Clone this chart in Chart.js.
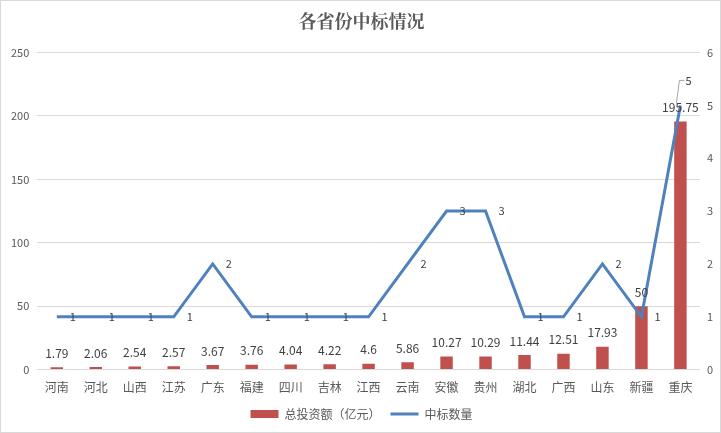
<!DOCTYPE html>
<html>
<head>
<meta charset="utf-8">
<script src="https://cdn.jsdelivr.net/npm/chart.js@4"></script>
<style>
  html, body { margin: 0; padding: 0; background: #fff; }
  #wrap { width: 719px; height: 431px; border: 1px solid #d9d9d9; position: relative; }
</style>
</head>
<body>
<div id="wrap"><canvas id="chart" width="719" height="431"></canvas></div>
<script>
const provinces = ["河南", "河北", "山西", "江苏", "广东", "福建", "四川", "吉林", "江西", "云南", "安徽", "贵州", "湖北", "广西", "山东", "新疆", "重庆"];
const investment = [1.79, 2.06, 2.54, 2.57, 3.67, 3.76, 4.04, 4.22, 4.6, 5.86, 10.27, 10.29, 11.44, 12.51, 17.93, 50, 195.75];
const bidCount = [1, 1, 1, 1, 2, 1, 1, 1, 1, 2, 3, 3, 1, 1, 2, 1, 5];

const txt = "#595959";
const font = "'Microsoft YaHei', 'Noto Sans CJK SC', sans-serif";

// draw the value labels for both series
const labelPlugin = {
  id: "valueLabels",
  afterDatasetsDraw(chart) {
    const ctx = chart.ctx;
    ctx.save();
    ctx.font = "12px " + font;
    ctx.fillStyle = "#404040";
    chart.getDatasetMeta(0).data.forEach((bar, i) => {
      ctx.textAlign = "center";
      ctx.textBaseline = "bottom";
      ctx.fillText(String(investment[i]), bar.x, bar.y - 8);
    });
    ctx.font = "11px " + font;
    const pts = chart.getDatasetMeta(1).data;
    pts.forEach((p, i) => {
      ctx.textBaseline = "middle";
      ctx.textAlign = "left";
      if (i === pts.length - 1) {
        // leader line for the last label
        ctx.strokeStyle = "#a6a6a6";
        ctx.lineWidth = 1;
        ctx.beginPath();
        ctx.moveTo(p.x - 4, p.y - 2);
        ctx.lineTo(p.x - 1, p.y - 25);
        ctx.lineTo(p.x + 4, p.y - 25);
        ctx.stroke();
        ctx.fillText(String(bidCount[i]), p.x + 5, p.y - 25);
      } else {
        ctx.fillText(String(bidCount[i]), p.x + 13, p.y);
      }
    });
    ctx.restore();
  }
};

new Chart(document.getElementById("chart"), {
  data: {
    labels: provinces,
    datasets: [
      {
        type: "bar",
        label: "总投资额（亿元）",
        data: investment,
        backgroundColor: "#C0504D",
        barPercentage: 0.64,
        categoryPercentage: 0.5,
        yAxisID: "y",
        order: 2,
        pointStyle: "rect"
      },
      {
        type: "line",
        label: "中标数量",
        data: bidCount,
        borderColor: "#4F81BD",
        backgroundColor: "#4F81BD",
        borderWidth: 3,
        pointRadius: 0,
        pointStyle: "line",
        tension: 0,
        yAxisID: "y1",
        order: 1
      }
    ]
  },
  options: {
    responsive: false,
    animation: false,
    layout: { padding: { left: 2, right: 0, top: 0, bottom: 2 } },
    plugins: {
      title: {
        display: true,
        text: "各省份中标情况",
        color: txt,
        font: { family: "'Noto Serif CJK SC', 'Noto Sans CJK SC', serif", size: 18, weight: "bold" },
        padding: { top: 9, bottom: 21 }
      },
      legend: {
        position: "bottom",
        labels: {
          color: txt,
          font: { family: font, size: 12 },
          usePointStyle: true,
          pointStyleWidth: 28,
          boxHeight: 8,
          padding: 10,
          generateLabels(chart) {
            return chart.data.datasets.map((ds, i) => ({
              text: ds.label,
              fillStyle: ds.backgroundColor,
              strokeStyle: ds.type === "line" ? ds.borderColor : ds.backgroundColor,
              lineWidth: ds.type === "line" ? 3 : 0,
              pointStyle: ds.pointStyle,
              datasetIndex: i,
              fontColor: txt
            }));
          }
        }
      },
      tooltip: { enabled: false }
    },
    scales: {
      x: {
        grid: { display: false },
        border: { color: "#d9d9d9" },
        ticks: { color: txt, font: { family: font, size: 12 }, padding: 3 }
      },
      y: {
        position: "left",
        min: 0,
        max: 250,
        grid: { color: "#d9d9d9", drawTicks: false },
        border: { display: false },
        ticks: { stepSize: 50, color: txt, font: { family: font, size: 11 }, padding: 8 }
      },
      y1: {
        position: "right",
        min: 0,
        max: 6,
        grid: { display: false, drawTicks: false },
        border: { display: false },
        ticks: { stepSize: 1, color: txt, font: { family: font, size: 11 }, padding: 7 }
      }
    }
  },
  plugins: [labelPlugin]
});
</script>
</body>
</html>
